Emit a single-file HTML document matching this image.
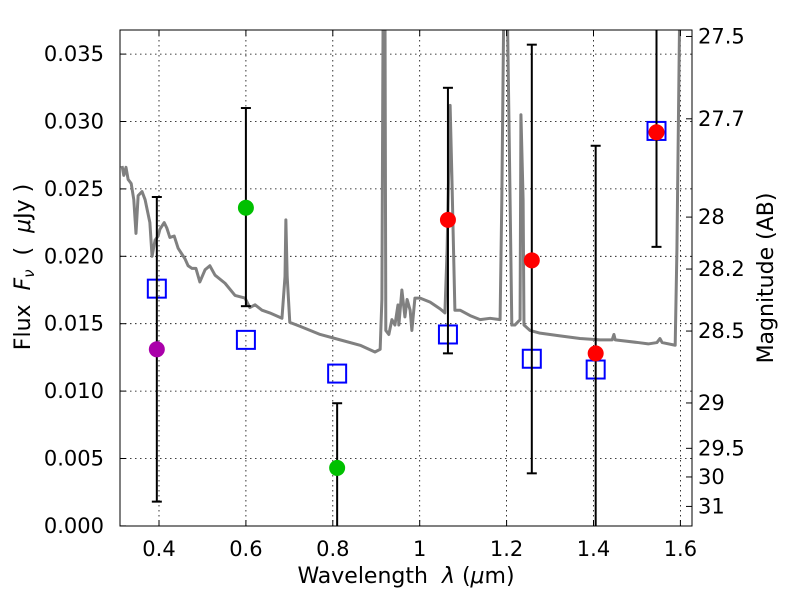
<!DOCTYPE html>
<html><head><meta charset="utf-8"><style>
body{margin:0;background:#fff;}
svg{font-family:"DejaVu Sans","Liberation Sans",sans-serif;}
</style></head><body>
<svg id="chart" width="800" height="600" viewBox="0 0 800 600">
<defs><clipPath id="clip"><rect x="120" y="30" width="572" height="496"/></clipPath></defs>
<rect x="0" y="0" width="800" height="600" fill="#fff"/>
<g id="grid"></g>
<g id="spec" clip-path="url(#clip)"></g>
<g id="marks" clip-path="url(#clip)"></g>
<rect x="120" y="30" width="572" height="496" fill="none" stroke="#000" stroke-width="1"/>
<g id="axes"></g>
<text x="406" y="583" font-size="22" text-anchor="middle">Wavelength&#160;&#160;<tspan font-style="italic">λ</tspan> (<tspan font-style="italic">μ</tspan>m)</text>
<text transform="translate(30,267) rotate(-90)" font-size="22" text-anchor="middle">Flux&#160;&#160;<tspan font-style="italic">F<tspan font-size="15" dy="4">ν</tspan></tspan><tspan dy="-4">&#160;&#160;(&#160;&#160;</tspan><tspan font-style="italic">μ</tspan>Jy )</text>
<text transform="translate(773,278) rotate(-90)" font-size="22" text-anchor="middle">Magnitude (AB)</text>
</svg>
<script>
const xTicks=[0.4,0.6,0.8,1.0,1.2,1.4,1.6];
const xTickLabels=["0.4","0.6","0.8","1","1.2","1.4","1.6"];
const yTicks=[0,0.005,0.010,0.015,0.020,0.025,0.030,0.035];
const yTickLabels=["0.000","0.005","0.010","0.015","0.020","0.025","0.030","0.035"];
const magTicks=[27.5,27.7,28,28.2,28.5,29,29.5,30,31];
const magTickLabels=["27.5","27.7","28","28.2","28.5","29","29.5","30","31"];
const specWave=[0.315,0.319,0.324,0.329,0.336,0.342,0.347,0.352,0.361,0.368,0.379,0.384,0.391,0.398,0.402,0.412,0.418,0.425,0.435,0.444,0.448,0.460,0.467,0.476,0.485,0.494,0.506,0.517,0.529,0.552,0.575,0.598,0.609,0.621,0.637,0.655,0.683,0.690,0.692,0.695,0.701,0.725,0.771,0.817,0.863,0.897,0.909,0.913,0.916,0.920,0.922,0.929,0.936,0.943,0.950,0.952,0.959,0.966,0.971,0.978,0.982,0.989,1.001,1.024,1.047,1.058,1.063,1.070,1.074,1.081,1.093,1.116,1.139,1.162,1.185,1.189,1.194,1.201,1.208,1.212,1.219,1.231,1.233,1.238,1.240,1.254,1.277,1.323,1.369,1.415,1.443,1.447,1.450,1.503,1.526,1.546,1.553,1.558,1.588,1.592,1.599];
const specFlux=[0.0267,0.0260,0.0266,0.0257,0.0254,0.0242,0.0217,0.0245,0.0248,0.0242,0.0225,0.0200,0.0212,0.0215,0.0220,0.0225,0.0221,0.0214,0.0215,0.0206,0.0204,0.0198,0.0193,0.0191,0.0191,0.0181,0.0190,0.0193,0.0186,0.0180,0.0171,0.0169,0.0162,0.0164,0.0160,0.0158,0.0154,0.0185,0.0227,0.0185,0.0151,0.0148,0.0142,0.0138,0.0134,0.0129,0.0131,0.0168,0.040,0.040,0.0145,0.0142,0.0153,0.0149,0.0164,0.0149,0.0175,0.0155,0.0168,0.0160,0.0145,0.0169,0.0169,0.0166,0.0161,0.0158,0.0204,0.0312,0.0260,0.0160,0.0160,0.0156,0.0153,0.0154,0.0153,0.0242,0.040,0.040,0.0242,0.0149,0.0149,0.0153,0.0305,0.0242,0.0149,0.0145,0.0143,0.0141,0.0139,0.0138,0.0138,0.0142,0.0138,0.0136,0.0135,0.0136,0.0139,0.0136,0.0134,0.0205,0.040];
const sqWave=[0.395,0.600,0.810,1.065,1.258,1.405,1.545];
const sqFlux=[0.0176,0.0138,0.0113,0.0142,0.0124,0.0116,0.0293];
const ptWave=[0.395,0.600,0.810,1.065,1.258,1.405,1.545];
const ptFlux=[0.0131,0.0236,0.0043,0.0227,0.0197,0.0128,0.0292];
const ptLow=[0.0018,0.0163,-0.003,0.0128,0.0039,-0.003,0.0207];
const ptHigh=[0.0244,0.0310,0.0091,0.0325,0.0357,0.0282,0.040];
const ptColor=["#aa00aa","#00c000","#00c000","#ff0000","#ff0000","#ff0000","#ff0000"];

const NS="http://www.w3.org/2000/svg";
const X=v=>159+(v-0.4)/0.2*86.9;
const Y=v=>525.9-v/0.005*67.4;
const magToY=m=>Y(Math.pow(10,(23.9-m)/2.5));
function mk(tag,attrs,parent,text){const e=document.createElementNS(NS,tag);for(const k in attrs)e.setAttribute(k,attrs[k]);if(text!==undefined)e.textContent=text;parent.appendChild(e);return e;}
const grid=document.getElementById('grid'),axes=document.getElementById('axes'),spec=document.getElementById('spec'),marks=document.getElementById('marks');

xTicks.forEach((t,i)=>{const x=X(t);
 const g=mk('line',{x1:x,x2:x,y1:30,y2:526,stroke:'#000','stroke-width':0.8,'stroke-dasharray':'1.5,3.5'},grid);
 
 mk('line',{x1:x,x2:x,y1:526,y2:520,stroke:'#000'},axes);mk('line',{x1:x,x2:x,y1:30,y2:36,stroke:'#000'},axes);
 const l=mk('text',{x:x,y:556,'font-size':21,'text-anchor':'middle'},axes,xTickLabels[i]);
 });
yTicks.forEach((t,i)=>{const y=Y(t);
 if(t>0){const g=mk('line',{x1:120,x2:692,y1:y,y2:y,stroke:'#000','stroke-width':0.8,'stroke-dasharray':'1.5,3.5'},grid);
 }
 mk('line',{x1:120,x2:126,y1:y,y2:y,stroke:'#000'},axes);
 const l=mk('text',{x:104,y:y+7,'font-size':21,'text-anchor':'end'},axes,yTickLabels[i]);
 });
magTicks.forEach((m,i)=>{const y=magToY(m);
 mk('line',{x1:686,x2:692,y1:y,y2:y,stroke:'#000'},axes);
 const l=mk('text',{x:698,y:y+7,'font-size':21},axes,magTickLabels[i]);
 });

const pl=mk('polyline',{points:specWave.map((w,i)=>X(w)+','+Y(specFlux[i])).join(' '),fill:'none',stroke:'#808080','stroke-width':3,'stroke-linejoin':'round'},spec);


sqWave.forEach((w,i)=>{const r=mk('rect',{x:X(w)-9,y:Y(sqFlux[i])-9,width:18,height:18,fill:'none',stroke:'#0000ff','stroke-width':2},marks);
 });
ptWave.forEach((w,i)=>{const x=X(w);
 const e=mk('line',{x1:x,x2:x,y1:Y(ptLow[i]),y2:Y(ptHigh[i]),stroke:'#000','stroke-width':2},marks);
 
 mk('line',{x1:x-5,x2:x+5,y1:Y(ptLow[i]),y2:Y(ptLow[i]),stroke:'#000','stroke-width':2},marks);
 mk('line',{x1:x-5,x2:x+5,y1:Y(ptHigh[i]),y2:Y(ptHigh[i]),stroke:'#000','stroke-width':2},marks);});
ptWave.forEach((w,i)=>{const c=mk('circle',{cx:X(w),cy:Y(ptFlux[i]),r:8,fill:ptColor[i]},marks);
 });
</script>
</body></html>
